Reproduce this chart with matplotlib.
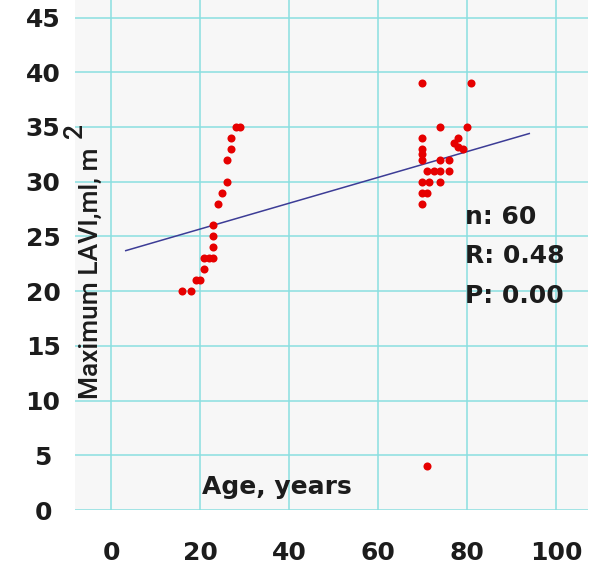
import numpy as np
import matplotlib.pyplot as plt

plt.rcParams['font.family'] = ['Roboto', 'DejaVu Sans']

# age (years) and maximum LAVI (ml/m2)
age_young = [16, 18, 19, 20, 21, 21, 22, 23, 23, 23, 23, 24, 25, 26, 26, 27, 27, 28, 29]
lavi_young = [20, 20, 21, 21, 22, 23, 23, 23, 24, 25, 26, 28, 29, 30, 32, 33, 34, 35, 35]

age_old = [70, 81, 74, 80, 70, 78, 77, 78, 79, 70, 70, 70, 74, 76, 71, 72.5, 74, 76,
           70, 71.5, 74, 70, 71, 70, 71]
lavi_old = [39, 39, 35, 35, 34, 34, 33.5, 33.2, 33, 33, 32.5, 32, 32, 32, 31, 31, 31, 31,
            30, 30, 30, 29, 29, 28, 4]

# regression line ends
fit_x = [3.3, 94.0]
fit_y = [23.7, 34.4]

stats = ['n: 60', 'R: 0.48', 'P: 0.00']
xticks = [0, 20, 40, 60, 80, 100]
yticks = [0, 5, 10, 15, 20, 25, 30, 35, 40, 45]

wide = dict(family='DejaVu Sans', fontweight='bold', fontsize=18, color='#1c1c1c')

fig = plt.figure(figsize=(6.06, 5.66), dpi=100)
ax = fig.add_axes([0.1238, 0.0989, 0.8465, 0.9011])
ax.set_facecolor('#f7f7f7')

ax.set_xlim(-8.1, 107.2)
ax.set_ylim(0.27, 46.6)
ax.set_xticks(xticks)
ax.set_yticks(yticks)
ax.grid(True, color='#8adfe0', linewidth=1.1)
ax.set_axisbelow(True)
for s in ax.spines.values():
    s.set_visible(False)

ax.tick_params(axis='both', length=0)
ax.tick_params(axis='x', pad=22)
ax.tick_params(axis='y', pad=23)
ax.set_xticklabels([str(v) for v in xticks], **wide)
ax.set_yticklabels([str(v) for v in yticks], ha='center', **wide)

ax.plot(fit_x, fit_y, color='#3c3c96', linewidth=1.1, zorder=2)
ax.plot(age_young + age_old, lavi_young + lavi_old, 'o', color='#e60000',
        markersize=5.8, markeredgewidth=0, zorder=3)

ax.text(20.4, 2.1, 'Age, years', ha='left', va='center', **wide)
ax.text(-4.6, 10.1, 'Maximum LAVI,ml, m', fontsize=19, fontweight='medium', rotation=90,
        color='#1c1c1c', ha='center', va='bottom')
ax.text(-8.0, 34.7, '2', fontsize=19, fontweight='medium', rotation=90, color='#1c1c1c',
        ha='center', va='center')

for i, t in enumerate(stats):
    ax.text(79.5, 26.8 - i * 3.6, t, ha='left', va='center', **wide)

fig.savefig('out.png', dpi=100)
